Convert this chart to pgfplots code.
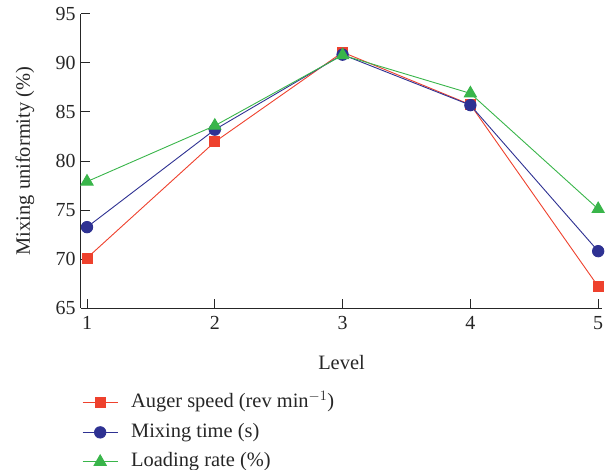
\documentclass[border=0pt]{standalone}
\usepackage{pgfplots}
\pgfplotsset{compat=1.18}
\usepackage{fontspec}
\setmainfont{Liberation Serif}
\definecolor{cred}{HTML}{EE412D}
\definecolor{cblue}{HTML}{2E3192}
\definecolor{cgreen}{HTML}{39B54A}
\begin{document}
\begin{tikzpicture}
\useasboundingbox (-81bp,-162bp) rectangle (528bp,308bp);
\begin{axis}[
  at={(0bp,0bp)}, anchor=south west,
  scale only axis, width=521bp, height=294bp,
  xmin=0.953, xmax=5.03, ymin=65, ymax=95,
  axis x line*=bottom, axis y line*=left,
  axis line style={draw=black!85, line width=1bp},
  xtick={1,2,3,4,5}, ytick={65,70,75,80,85,90,95},
  tick align=inside, major tick length=9bp,
  tick style={black!85, line width=1bp},
  /pgf/number format/assume math mode=true,
  ticklabel style={font=\fontsize{20}{24}\selectfont, text=black!85},
  xticklabel style={yshift=-5bp},
  yticklabel style={xshift=-2bp},
  xlabel={Level}, ylabel={Mixing uniformity (\%)},
  xlabel style={at={(axis description cs:0.5,0)}, anchor=center, yshift=-55bp,
    font=\fontsize{20.5}{24}\selectfont, text=black!85},
  ylabel style={at={(axis description cs:0,0.5)}, anchor=center, rotate=0, yshift=56bp,
    font=\fontsize{20.5}{24}\selectfont, text=black!85},
  legend style={at={(axis description cs:0.002,-0.288)}, anchor=north west, draw=none, fill=none,
    font=\fontsize{20.5}{24}\selectfont, text=black!85, row sep=9.5bp, inner xsep=0pt, inner ysep=0pt,
    nodes={inner xsep=0pt, inner ysep=0pt, text height=15bp, text depth=5bp},
    /tikz/every odd column/.append style={column sep=13bp}},
  legend cell align=left,
  legend image code/.code={
    \draw[#1] (0bp,0bp) -- (35bp,0bp);
    \draw[#1, mark repeat=1] plot coordinates {(17.5bp,0bp)};
  },
  clip=false,
]
\addplot[cred, line width=0.9bp, mark=square*, mark size=5bp, mark options={solid}] coordinates {(1,70.1) (2,81.95) (3,91.1) (4,85.75) (5,67.2)};
\addlegendentry{Auger speed (rev min$^{-1}$)}
\addplot[cblue, line width=0.9bp, mark=*, mark size=5.7bp] coordinates {(1,73.25) (2,83.2) (3,90.85) (4,85.7) (5,70.8)};
\addlegendentry{Mixing time (s)}
\addplot[cgreen, line width=0.9bp, mark=triangle*, mark size=7bp] coordinates {(1,77.9) (2,83.6) (3,90.8) (4,86.9) (5,75.1)};
\addlegendentry{Loading rate (\%)}
\end{axis}
\end{tikzpicture}
\end{document}
